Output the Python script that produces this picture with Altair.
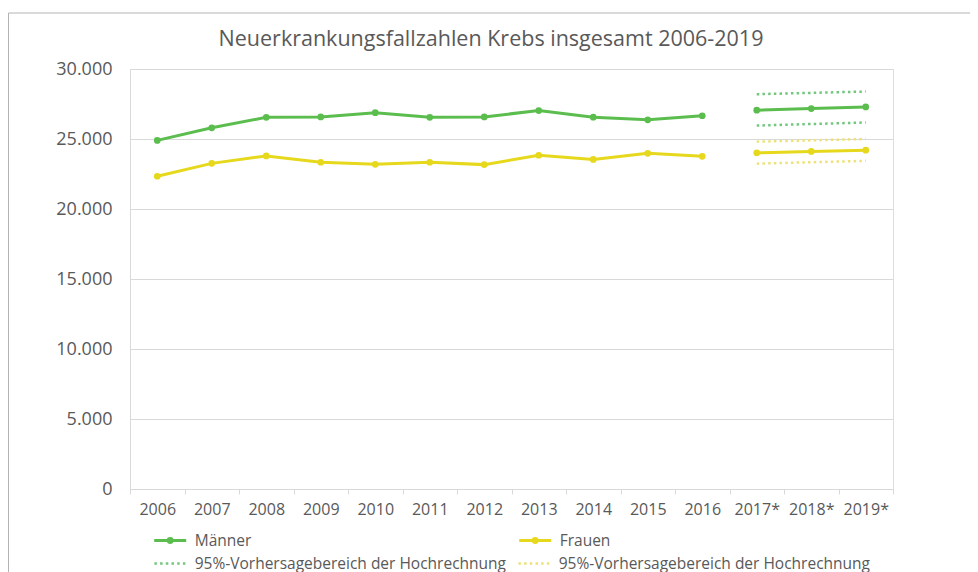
import altair as alt
import pandas as pd

title_text = "Neuerkrankungsfallzahlen Krebs insgesamt 2006-2019"
years = ["2006", "2007", "2008", "2009", "2010", "2011", "2012", "2013",
         "2014", "2015", "2016", "2017*", "2018*", "2019*"]
maenner = [24900, 25800, 26550, 26580, 26880, 26550, 26580, 27030,
           26560, 26370, 26660, 27060, 27170, 27290]
frauen = [22340, 23260, 23790, 23340, 23190, 23340, 23170, 23840,
          23540, 23980, 23760, 24010, 24110, 24200]
proj_years = ["2017*", "2019*"]
m_upper = [28200, 28390]
m_lower = [25960, 26180]
f_upper = [24810, 25000]
f_lower = [23240, 23440]

band_label = "95%-Vorhersagebereich der Hochrechnung"
GREEN = "#5bbd4e"
YELLOW = "#e6d81c"
DGREEN = "#72c77e"
DYELLOW = "#ede27a"
TXT = "#595959"
GRID = "#d9d9d9"
FONT = "Open Sans"

rows = []
for name, vals in (("Männer", maenner), ("Frauen", frauen)):
    for y, v in zip(years, vals):
        seg = "proj" if y.endswith("*") else "hist"
        rows.append({"jahr": y, "wert": v, "serie": name, "seg": seg})
solid = pd.DataFrame(rows)

rows = []
for key, up, lo in (("m95", m_upper, m_lower), ("f95", f_upper, f_lower)):
    for y, u, l in zip(proj_years, up, lo):
        rows.append({"jahr": y, "wert": u, "band": key, "grenze": "oben"})
        rows.append({"jahr": y, "wert": l, "band": key, "grenze": "unten"})
dotted = pd.DataFrame(rows)

x_enc = alt.X("jahr:N", sort=years,
              scale=alt.Scale(domain=years, paddingInner=0, paddingOuter=0),
              axis=alt.Axis(title=None, labelAngle=0, tickBand="extent",
                            tickSize=5, tickColor=GRID, domainColor=GRID,
                            labelFontSize=16, labelFont=FONT, labelColor=TXT,
                            labelPadding=7, grid=False))
y_enc = alt.Y("wert:Q",
              scale=alt.Scale(domain=[0, 30000], nice=False, zero=True),
              axis=alt.Axis(title=None, values=[0, 5000, 10000, 15000, 20000, 25000, 30000],
                            labelExpr="replace(format(datum.value, ','), ',', '.')",
                            ticks=False, domainColor=GRID, gridColor=GRID,
                            labelFontSize=18, labelFont=FONT, labelColor=TXT,
                            labelPadding=18))

solid_lines = alt.Chart(solid).mark_line(strokeWidth=3).encode(
    x=x_enc, y=y_enc,
    color=alt.Color("serie:N",
                    scale=alt.Scale(domain=["Männer", "Frauen"], range=[GREEN, YELLOW]),
                    legend=alt.Legend(title=None, orient="none", legendX=22.7, legendY=454,
                                      columns=2, columnPadding=261, padding=0,
                                      symbolType="M-1,0L1,0M-0.12,0A0.12,0.12,0,1,1,0.12,0A0.12,0.12,0,1,1,-0.12,0Z",
                                      symbolSize=1024, symbolStrokeWidth=3,
                                      labelFontSize=15.5, labelFont=FONT, labelColor=TXT,
                                      labelOffset=7, labelLimit=400)),
    detail="seg:N",
)

points = alt.Chart(solid).mark_point(filled=True, size=45, opacity=1).encode(
    x=x_enc, y=y_enc,
    color=alt.Color("serie:N",
                    scale=alt.Scale(domain=["Männer", "Frauen"], range=[GREEN, YELLOW]),
                    legend=None),
)

dotted_lines = alt.Chart(dotted).mark_line(strokeWidth=2.5, strokeDash=[2.5, 3.2]).encode(
    x=x_enc, y=y_enc,
    color=alt.Color("band:N",
                    scale=alt.Scale(domain=["m95", "f95"], range=[DGREEN, DYELLOW]),
                    legend=alt.Legend(title=None, orient="none", legendX=22.7, legendY=477,
                                      columns=2, columnPadding=6, padding=0,
                                      symbolType="stroke", symbolSize=1000,
                                      symbolStrokeWidth=2.5, symbolDash=[2.5, 3.2],
                                      labelExpr="'" + band_label + "'",
                                      labelFontSize=15.5, labelFont=FONT, labelColor=TXT,
                                      labelOffset=7, labelLimit=400)),
    detail="grenze:N",
)

one = pd.DataFrame({"t": [title_text]})

frame = alt.Chart(one).mark_rect(
    fillOpacity=0, stroke="#b3b3b3", strokeWidth=1
).encode(x=alt.value(-121.5), x2=alt.value(1000), y=alt.value(-56), y2=alt.value(800))

title = alt.Chart(one).mark_text(
    font=FONT, fontSize=21.5, color=TXT, align="center", baseline="alphabetic"
).encode(text="t:N", x=alt.value(361), y=alt.value(-23))

chart = alt.layer(frame, title, dotted_lines, solid_lines, points).resolve_scale(
    color="independent"
).properties(
    width=763, height=420,
    autosize=alt.AutoSizeParams(type="none"),
    padding={"left": 122, "top": 61, "right": 77, "bottom": 83},
).configure_view(stroke=GRID).configure(background="white")

chart.save("out.html", embed_options={"renderer": "svg", "actions": False})
